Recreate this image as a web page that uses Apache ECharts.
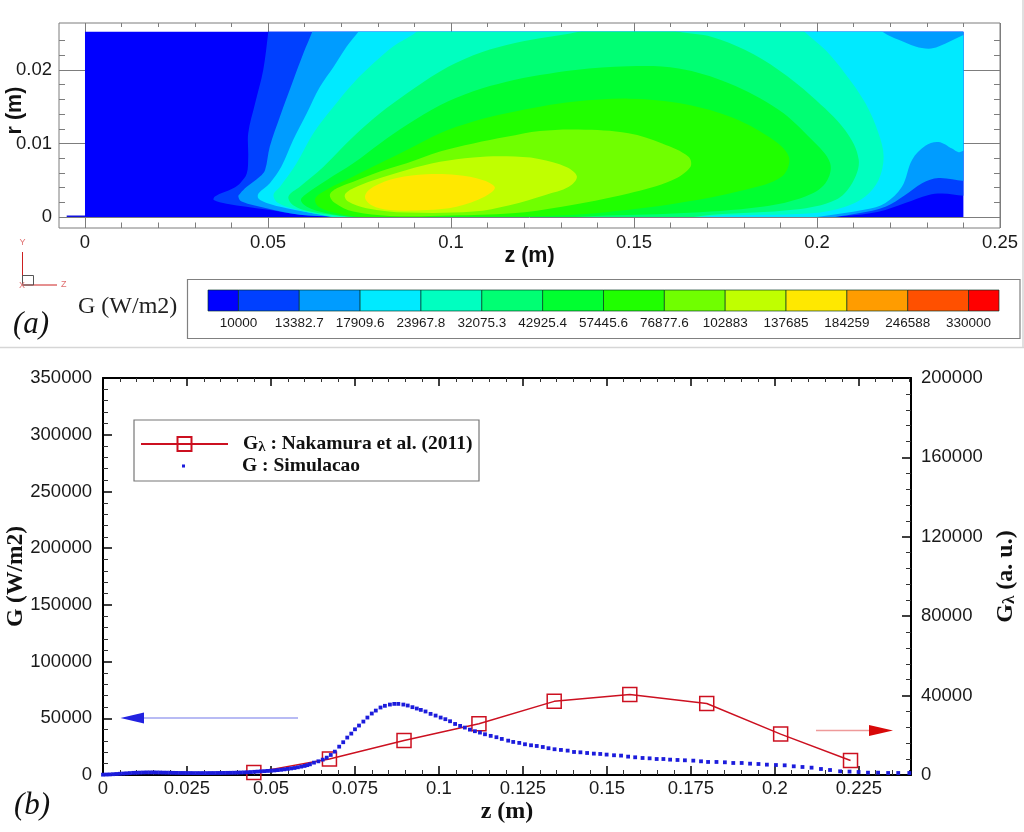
<!DOCTYPE html>
<html>
<head>
<meta charset="utf-8">
<style>html,body{margin:0;padding:0;background:#fff}#c{width:1024px;height:832px}</style>
<script src="https://cdn.jsdelivr.net/npm/echarts@6/dist/echarts.min.js"></script>
</head>
<body>
<div id="c"></div>
<script>
// ---------- panel (a): contour levels and colours ----------
const contourLevels = ['10000','13382.7','17909.6','23967.8','32075.3','42925.4','57445.6','76877.6','102883','137685','184259','246588','330000'];
const bandColors = ['#0000ff','#0040ff','#009cff','#00eaff','#00ffc0','#00ff73','#00ff30','#20ff00','#70ff00','#c0ff00','#ffe800','#ff9c00','#ff5000','#ff0000'];

// outlines of "G above level" regions, [z mm, r mm]
const region0 = [[-10,-10],[250,-10],[250,30],[-10,30]];
const region1 = [[50.6,27],[50.1,25.2],[48.7,20],[46.5,15.5],[44.6,11.4],[44.6,8.2],[44.2,5.9],[42.4,4.6],[40.5,3.9],[35.5,2.8],[35.2,2.3],[38.7,1.8],[49.6,1.0],[58.7,0.3],[67.9,0],[75,-0.6],[150,-0.6],[160.4,0],[198.6,0.08],[207.7,0.14],[216.8,0.7],[224.1,1.9],[230.5,3.0],[234.2,3.2],[240.2,2.9],[246,2.9],[246,27]];
const region2 = [[63.5,27],[62.1,25.2],[59.7,22.3],[56.9,18.6],[53.3,13.7],[50.5,9.6],[49.2,6.4],[47.8,5.5],[44.2,4.1],[42.4,3.2],[41.9,2.8],[42.8,2.1],[49.6,1.2],[58.7,0.3],[67.9,0],[75,-0.6],[195,-0.6],[205,0],[211.4,0.5],[218.7,1.4],[224.1,3.0],[228.7,4.6],[233.2,5.3],[240.2,4.9],[246,4.9],[246,27]];
const region3 = [[77,27],[74.7,25.2],[71.5,23.2],[67.9,20.4],[64.2,17.7],[60.6,14.1],[56.9,10.5],[53.7,6.9],[50.5,4.6],[47.4,3.2],[47.4,2.5],[49.6,1.9],[55.1,1.2],[64.2,0.36],[67.9,0],[75,-0.6],[190,-0.6],[200,0],[213.2,1.0],[218.7,1.9],[223.2,4.1],[226,7.8],[229.6,9.7],[233.2,10.2],[236.9,9.3],[238.7,8.8],[240.2,9.0],[246,9.4],[246,26],[240.2,24.8],[233.2,23.2],[230.5,22.9],[226.9,23.2],[222.3,24.1],[218.2,25.1],[214,27]];
const region4 = [[93.5,27],[90.6,25.2],[84.2,23.2],[78.8,20.9],[73.3,18.2],[67.9,15.0],[62.4,11.4],[57.8,7.3],[53.3,4.1],[51.5,3.0],[52.8,1.9],[57.8,1.0],[66,0.14],[75,-0.4],[160,-0.4],[171.3,0.14],[198.6,0.5],[207.7,1.4],[213.2,2.8],[216.8,5.0],[218.2,8.2],[216.8,11.4],[213.2,15.5],[207.7,19.5],[202.3,22.7],[196.8,25.1],[193,27]];
const region5 = [[140,26],[134.9,25.2],[124.3,24.3],[115.2,23.4],[106.1,22],[97,19.8],[87.9,16.8],[80.6,14.1],[73.3,10.9],[65.1,6.8],[58.7,4.1],[55.6,2.8],[56.9,1.6],[61.5,0.73],[69.6,0.14],[80,-0.3],[160,-0.3],[171.3,0.3],[194.1,1.0],[205.0,2.3],[209.6,4.6],[211.4,7.8],[207.7,11.8],[198.6,16.4],[189.5,20],[180.4,22.7],[171.3,24.5],[162.2,25.2],[155,26]];
const region6 = [[124.3,19.3],[115.2,18.4],[106.1,17.1],[97,15.2],[87.9,12.5],[80.6,10.0],[73.3,7.3],[66,5.0],[60.6,3.2],[59,2.3],[60.6,1.4],[66,0.5],[73.3,0],[85,-0.2],[125,-0.2],[139.4,0.14],[162.2,0.5],[185,1.4],[196.8,2.8],[202.3,4.6],[203.6,7.3],[198.6,10.5],[189.5,14.6],[175.9,18.2],[162.2,20.2],[148.5,20.5],[134,20]];
const region7 = [[124.3,15.0],[115.2,14.1],[106.1,13.0],[97,11.4],[87.9,9.1],[80.6,7.3],[73.3,5.5],[66,3.7],[62.9,2.5],[63.8,1.4],[68.8,0.5],[76,0],[100,0.05],[125.8,0.14],[139.4,0.5],[162.2,1.9],[180.4,3.7],[190.4,5.5],[192.3,8.2],[186.8,10.9],[175.9,13.7],[162.2,15.5],[148.5,16.1],[134,15.7]];
const region8 = [[124.3,11.7],[115.2,10.9],[106.1,10.0],[97,8.9],[87.9,7.3],[80.6,6.2],[73.3,4.8],[68.8,3.9],[66.9,3.0],[68.3,1.9],[73.3,0.73],[83.3,0.14],[100,0.2],[116.7,0.5],[130.3,1.4],[148.5,3.2],[160.4,5.0],[165.4,6.8],[164.9,8.2],[157.7,10],[148.5,11.4],[134.9,11.9]];
const region9 = [[124,7.9],[115.2,8.25],[106.1,8.1],[97,7.5],[87.9,6.4],[78.8,5.0],[73.3,3.9],[71,3.0],[71.9,2.1],[76.9,1.2],[87.9,0.6],[106.1,0.73],[116,1.6],[125.8,3.0],[132.2,4.1],[134.4,5.5],[131.5,6.8]];
const region10 = [[76.5,2.8],[78.8,4.1],[85.2,5.3],[93.3,5.8],[101.5,5.7],[108.8,5.0],[112,4.0],[109.3,2.8],[101.5,1.4],[93.3,0.95],[83.3,0.95],[78.3,1.6]];
const contourRegions = [region0,region1,region2,region3,region4,region5,region6,region7,region8,region9,region10];
const domainCorners = [[0,0],[0.24,0.0252]];
const inletLine = [[-0.005,0.0001],[0,0.0001]];

const topZMajor = [0,0.05,0.1,0.15,0.2,0.25];
const topZMinor = [0.01,0.02,0.03,0.04,0.06,0.07,0.08,0.09,0.11,0.12,0.13,0.14,0.16,0.17,0.18,0.19,0.21,0.22,0.23,0.24];
const topRMajor = [0,0.01,0.02];
const topRMinor = [0.002,0.004,0.006,0.008,0.012,0.014,0.016,0.018,0.022,0.024];

// ---------- panel (b): data ----------
const nakamuraZ = [0.0449,0.0674,0.0896,0.1119,0.1343,0.1568,0.1797,0.2017,0.2225];
const nakamuraG = [1200,8100,17400,25800,37100,40500,36000,20600,7300];
const simulacao = [
[0,300],[0.001,400],[0.002,500],[0.003,700],[0.004,900],[0.005,1100],[0.006,1300],[0.007,1500],[0.008,1700],[0.009,1900],
[0.010,2000],[0.011,2100],[0.012,2200],[0.013,2300],[0.014,2300],[0.015,2300],[0.016,2250],[0.017,2200],[0.018,2100],[0.019,2050],
[0.020,2000],[0.021,1900],[0.022,1850],[0.023,1800],[0.024,1800],[0.025,1750],[0.026,1750],[0.027,1700],[0.028,1700],[0.029,1700],
[0.030,1700],[0.031,1700],[0.032,1750],[0.033,1750],[0.034,1800],[0.035,1800],[0.036,1850],[0.037,1900],[0.038,1950],[0.039,2000],
[0.040,2100],[0.041,2200],[0.042,2300],[0.043,2450],[0.044,2600],[0.045,2800],[0.046,3000],[0.047,3200],[0.048,3400],[0.049,3600],
[0.050,3800],[0.051,4000],[0.052,4300],[0.053,4600],[0.054,5000],[0.055,5400],[0.056,5800],[0.057,6200],[0.058,6800],[0.059,7400],
[0.060,8000],[0.0608,8700],[0.0616,9424],[0.0628,10900],[0.0641,12070],[0.0654,13550],[0.0666,15300],[0.0678,17670],[0.0690,20600],
[0.0703,25000],[0.0715,28900],[0.0727,33000],[0.0739,36500],[0.0750,40300],[0.0762,43600],[0.0775,47100],[0.0787,50650],[0.0800,54200],
[0.0812,56800],[0.0826,59500],[0.0839,61000],[0.0854,62100],[0.0867,62700],[0.0879,62700],[0.0894,62100],[0.0907,61250],[0.0921,59800],
[0.0934,58600],[0.0946,57400],[0.0960,56000],[0.0975,53900],[0.0990,52400],[0.1005,50650],[0.1019,49200],[0.1033,47400],[0.1048,45000],
[0.1063,43300],[0.1077,41800],[0.1092,40000],[0.1107,38600],[0.1122,37400],[0.1137,35900],[0.1154,34500],[0.1171,33300],[0.1187,31800],
[0.1206,30300],[0.1221,29150],[0.1239,28300],[0.1256,27100],[0.1274,26200],[0.1291,25600],[0.1309,24700],[0.1326,23600],[0.1344,22700],
[0.1363,22100],[0.1383,21500],[0.1402,20300],[0.1421,20000],[0.1441,19400],[0.1461,18850],[0.1480,18550],[0.1499,18000],[0.1521,17400],
[0.1542,17100],[0.1563,16200],[0.1584,15600],[0.1606,15000],[0.1627,14700],[0.1648,14100],[0.1668,14100],[0.1688,13550],[0.1710,13250],
[0.1732,12960],[0.1757,12660],[0.1780,12070],[0.1801,11500],[0.1826,11500],[0.1851,11200],[0.1876,10600],[0.1901,10600],[0.1926,10000],
[0.1951,9700],[0.1976,9130],[0.2003,8800],[0.2029,8540],[0.2056,7660],[0.2082,7070],[0.2109,6480],[0.2137,5300],[0.2164,4400],
[0.2194,3240],[0.2222,3000],[0.2249,2650],[0.2277,2060],[0.2307,2060],[0.2337,1770],[0.2367,1770],[0.2400,1770]];

const botZMajor = [0,0.025,0.05,0.075,0.1,0.125,0.15,0.175,0.2,0.225];
const botZMinor = [0.005,0.01,0.015,0.02,0.03,0.035,0.04,0.045,0.055,0.06,0.065,0.07,0.08,0.085,0.09,0.095,0.105,0.11,0.115,0.12,0.13,0.135,0.14,0.145,0.155,0.16,0.165,0.17,0.18,0.185,0.19,0.195,0.205,0.21,0.215,0.22,0.23,0.235,0.24];
const leftGMajor = [0,50000,100000,150000,200000,250000,300000,350000];
const leftGMinor = [10000,20000,30000,40000,60000,70000,80000,90000,110000,120000,130000,140000,160000,170000,180000,190000,210000,220000,230000,240000,260000,270000,280000,290000,310000,320000,330000,340000];
const rightGMajor = [0,40000,80000,120000,160000,200000];
const rightGMinor = [8000,16000,24000,32000,48000,56000,64000,72000,88000,96000,104000,112000,128000,136000,144000,152000,168000,176000,184000,192000];

const SANS = '"Liberation Sans", Arial, sans-serif';
const SERIF = '"Liberation Serif", "Times New Roman", serif';
const TICKFONT = 18.5;

function overlayAxis(kind, grid, pos, min, max, values, len, color, width) {
  return {
    type:'value', gridIndex:grid, position:pos, min, max, scale:false, silent:true,
    axisLine:{show:false, onZero:false},
    axisLabel:{show:false},
    splitLine:{show:false},
    axisTick:{show:true, inside:true, length:len, customValues:values, lineStyle:{color, width}}
  };
}

const GREY = '#7d7d7d';

const xAxes = [
  // 0: panel a
  { type:'value', gridIndex:0, position:'bottom', min:-0.0071, max:0.25, name:'z (m)', nameLocation:'middle', nameGap:17, nameMoveOverlap:false,
    nameTextStyle:{fontFamily:SANS, fontWeight:'bold', fontSize:21.5, color:'#111'},
    axisLine:{show:false, onZero:false},
    axisTick:{show:false, customValues:topZMajor},
    axisLabel:{customValues:topZMajor, formatter:v=>String(v), fontFamily:SANS, fontSize:TICKFONT, color:'#1a1a1a', margin:5, hideOverlap:false, showMinLabel:true, showMaxLabel:true},
    splitLine:{show:true, lineStyle:{color:GREY, width:1}} },
  overlayAxis('x',0,'bottom',-0.0071,0.25,topZMinor,5.5,GREY,1),
  overlayAxis('x',0,'top',-0.0071,0.25,topZMinor,4,GREY,1),
  // 3: panel b
  { type:'value', gridIndex:1, position:'bottom', min:0, max:0.2405, name:'z (m)', nameLocation:'middle', nameGap:25, nameMoveOverlap:false,
    nameTextStyle:{fontFamily:SERIF, fontWeight:'bold', fontSize:24, color:'#111'},
    axisLine:{show:true, onZero:false, lineStyle:{color:'#000', width:2}},
    axisTick:{show:true, inside:true, length:9, customValues:botZMajor, lineStyle:{color:'#000', width:1.5}},
    axisLabel:{customValues:botZMajor, formatter:v=>String(v), fontFamily:SANS, fontSize:TICKFONT, color:'#1a1a1a', margin:4, hideOverlap:false, showMinLabel:true},
    splitLine:{show:false} },
  overlayAxis('x',1,'bottom',0,0.2405,botZMinor,5,'#333',1),
  { type:'value', gridIndex:1, position:'top', min:0, max:0.2405,
    axisLine:{show:true, onZero:false, lineStyle:{color:'#000', width:2}},
    axisTick:{show:true, inside:true, length:8, customValues:botZMajor, lineStyle:{color:'#000', width:1.5}},
    axisLabel:{show:false}, splitLine:{show:false} },
  overlayAxis('x',1,'top',0,0.2405,botZMinor,4,'#333',1),
  // 7: colour bar
  { type:'value', gridIndex:2, position:'bottom', min:-0.5, max:12.5,
    axisLine:{show:false, onZero:false},
    axisTick:{show:false},
    axisLabel:{customValues:contourLevels.map((_,i)=>i), formatter:v=>contourLevels[v], fontFamily:SANS, fontSize:13.5, color:'#1a1a1a', margin:5, hideOverlap:false},
    splitLine:{show:false} }
];

const yAxes = [
  // 0: panel a
  { type:'value', gridIndex:0, position:'left', min:-0.0015, max:0.02639, name:'r (m)', nameLocation:'middle', nameGap:33, nameRotate:90, nameMoveOverlap:false,
    nameTextStyle:{fontFamily:SANS, fontWeight:'bold', fontSize:21.5, color:'#111', padding:[0,0,0,30]},
    axisLine:{show:false, onZero:false},
    axisTick:{show:false, customValues:topRMajor},
    axisLabel:{customValues:topRMajor, formatter:v=>String(v), fontFamily:SANS, fontSize:TICKFONT, color:'#1a1a1a', margin:7, hideOverlap:false},
    splitLine:{show:true, lineStyle:{color:GREY, width:1}} },
  overlayAxis('y',0,'left',-0.0015,0.02639,topRMinor,6,GREY,1),
  overlayAxis('y',0,'right',-0.0015,0.02639,topRMinor,6,GREY,1),
  // 3: panel b left
  { type:'value', gridIndex:1, position:'left', min:0, max:350000, name:'G (W/m2)', nameLocation:'middle', nameGap:75, nameRotate:90, nameMoveOverlap:false,
    nameTextStyle:{fontFamily:SERIF, fontWeight:'bold', fontSize:23.5, color:'#111'},
    axisLine:{show:true, onZero:false, lineStyle:{color:'#000', width:2}},
    axisTick:{show:true, inside:true, length:9, customValues:leftGMajor, lineStyle:{color:'#000', width:1.5}},
    axisLabel:{customValues:leftGMajor, formatter:v=>String(v), fontFamily:SANS, fontSize:TICKFONT, color:'#1a1a1a', margin:11, hideOverlap:false},
    splitLine:{show:false} },
  overlayAxis('y',1,'left',0,350000,leftGMinor,5,'#333',1),
  // 5: panel b right
  { type:'value', gridIndex:1, position:'right', min:0, max:200000, name:'{b|G}{s|λ}{b| (a. u.)}', nameLocation:'middle', nameGap:82, nameRotate:90, nameMoveOverlap:false,
    nameTextStyle:{rich:{b:{fontFamily:SERIF, fontWeight:'bold', fontSize:24, color:'#111'}, s:{fontFamily:SERIF, fontWeight:'bold', fontSize:17, color:'#111', padding:[8,0,0,0]}}},
    axisLine:{show:true, onZero:false, lineStyle:{color:'#000', width:2}},
    axisTick:{show:true, inside:true, length:9, customValues:rightGMajor, lineStyle:{color:'#000', width:1.5}},
    axisLabel:{customValues:rightGMajor, formatter:v=>String(v), fontFamily:SANS, fontSize:TICKFONT, color:'#1a1a1a', margin:10, hideOverlap:false},
    splitLine:{show:false} },
  overlayAxis('y',1,'right',0,200000,rightGMinor,5,'#333',1),
  // 7: colour bar
  { type:'value', gridIndex:2, min:0, max:1, show:false }
];

function renderRegion(params, api) {
  const region = contourRegions[params.dataIndex];
  const pts = region.map(p => api.coord([p[0]/1000, p[1]/1000]));
  const a = api.coord(domainCorners[0]), b = api.coord(domainCorners[1]);
  return {
    type:'group',
    children:[{
      type:'polygon',
      shape:{points:pts, smooth:params.dataIndex===0?0:0.35},
      style:{fill:bandColors[params.dataIndex], stroke:null},
      clipPath:{type:'rect', shape:{x:a[0], y:b[1], width:b[0]-a[0], height:a[1]-b[1]}},
      silent:true
    }]
  };
}
function renderSwatch(params, api) {
  const i = params.dataIndex;
  const a = api.coord([Math.max(i-1,-0.5),0]), b = api.coord([Math.min(i,12.5),1]);
  return { type:'rect', shape:{x:a[0], y:b[1], width:b[0]-a[0], height:a[1]-b[1]},
    style:{fill:bandColors[i], stroke:'rgba(0,50,30,0.65)', lineWidth:1}, silent:true };
}

const legendText = {
  fontFamily:SERIF, fontWeight:'bold', fontSize:19.5, color:'#111', padding:[0,0,0,10],
  rich:{b:{fontFamily:SERIF, fontWeight:'bold', fontSize:19.5, color:'#111'}, s:{fontFamily:SERIF, fontWeight:'bold', fontSize:15, color:'#111', padding:[6,0,0,0]}}
};
const NAK = 'Gλ : Nakamura et al. (2011)';
const SIM = 'G : Simulacao';

function line(x1,y1,x2,y2,color,w){ return {type:'line', shape:{x1,y1,x2,y2}, style:{stroke:color, lineWidth:w}, silent:true}; }
function txt(x,y,text,font,fill,extra){ return Object.assign({type:'text', x, y, style:{text, font, fill, textAlign:'left', textVerticalAlign:'middle'}, silent:true}, extra||{}); }

const option = {
  animation:false,
  backgroundColor:'#fff',
  grid:[
    {left:59, top:23, width:941, height:205, show:true, borderColor:GREY, borderWidth:1, backgroundColor:'transparent', containLabel:false, outerBoundsMode:'none'},
    {left:103, top:378, width:808, height:397, show:false, containLabel:false, outerBoundsMode:'none'},
    {left:208, top:290, width:791, height:21, show:false, containLabel:false, outerBoundsMode:'none'}
  ],
  xAxis:xAxes,
  yAxis:yAxes,
  legend:[
    {left:140, top:434, padding:0, itemWidth:87, itemHeight:17.5, data:[NAK], selectedMode:false, textStyle:legendText,
     formatter:()=>'{b|G}{s|λ}{b| : Nakamura et al. (2011)}'},
    {left:140, top:456, padding:0, itemWidth:87, itemHeight:3.8, data:[SIM], selectedMode:false, textStyle:Object.assign({},legendText,{}),
     formatter:n=>'{b|'+n+'}'}
  ],
  series:[
    {type:'custom', name:'G contour', xAxisIndex:0, yAxisIndex:0, renderItem:renderRegion, coordinateSystem:'cartesian2d',
     encode:{x:0,y:1}, data:contourRegions.map(()=>[0,0]), silent:true, clip:false, z:2},
    {type:'line', name:'inlet', xAxisIndex:0, yAxisIndex:0, data:inletLine, symbol:'none', lineStyle:{color:'#1010e0', width:1.5}, silent:true, z:3},
    {type:'custom', name:'colour bar', xAxisIndex:7, yAxisIndex:7, renderItem:renderSwatch, coordinateSystem:'cartesian2d',
     encode:{x:0,y:1}, data:bandColors.map(()=>[0,0]), silent:true, clip:false},
    {type:'line', name:NAK, xAxisIndex:3, yAxisIndex:5, data:nakamuraZ.map((z,i)=>[z,nakamuraG[i]]),
     symbol:'rect', symbolSize:14, showAllSymbol:true, lineStyle:{color:'#cc1020', width:1.5},
     itemStyle:{color:'rgba(255,255,255,0)', borderColor:'#cc1020', borderWidth:1.5}, silent:true, z:3},
    {type:'line', name:SIM, xAxisIndex:3, yAxisIndex:3, data:simulacao,
     symbol:'rect', symbolSize:3.8, showAllSymbol:true, lineStyle:{width:0, opacity:0},
     itemStyle:{color:'#1c1cdc'}, silent:true, z:4}
  ],
  graphic:[
    line(0,347.5,1024,347.5,'#d6d6d6',1.5),
    line(1023,0,1023,347.5,'#d6d6d6',1.5),
    {type:'rect', shape:{x:187.5,y:279.5,width:832.5,height:59}, style:{fill:'none', stroke:'#808080', lineWidth:1.2}, silent:true},
    txt(78,307,'G (W/m2)','24px '+SERIF,'#222'),
    txt(13,325,'(a)','italic 31px '+SERIF,'#111'),
    txt(14,806,'(b)','italic 31px '+SERIF,'#111'),
    line(22.5,252,22.5,285,'#cc2020',1),
    line(22.5,285,57,285,'#cc2020',1),
    {type:'rect', shape:{x:22.5,y:275.5,width:11,height:9.5}, style:{fill:'none', stroke:'#555', lineWidth:1}, silent:true},
    txt(19.5,243,'Y','9px '+SANS,'#e07070'),
    txt(61,285,'Z','9px '+SANS,'#e07070'),
    txt(19,286,'X','9px '+SANS,'#e07070'),
    {type:'rect', shape:{x:134,y:420,width:345,height:61}, style:{fill:'none', stroke:'#777', lineWidth:1.2}, silent:true},
    line(144,718,298,718,'#a0a4f0',1.5),
    {type:'polygon', shape:{points:[[120.5,718],[144,712.5],[144,723.5]]}, style:{fill:'#2222e0'}, silent:true},
    line(816,730.5,869,730.5,'#ee9a9a',1.5),
    {type:'polygon', shape:{points:[[893,730.5],[869,725],[869,736]]}, style:{fill:'#d80808'}, silent:true}
  ]
};
const chart = echarts.init(document.getElementById('c'), null, {renderer:'canvas', width:1024, height:832});
chart.setOption(option);
</script>
</body>
</html>
